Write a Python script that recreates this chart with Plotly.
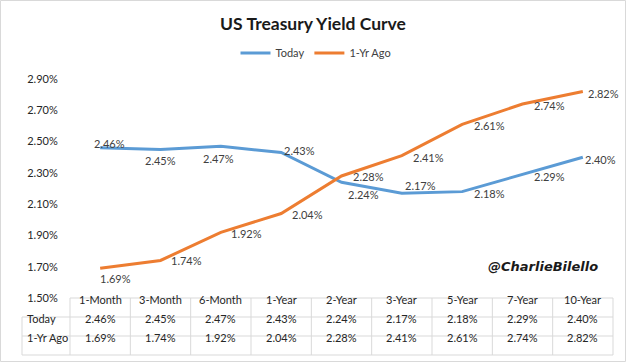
import plotly.graph_objects as go

# ---- data ----
maturities = ["1-Month", "3-Month", "6-Month", "1-Year", "2-Year", "3-Year", "5-Year", "7-Year", "10-Year"]
today = [2.46, 2.45, 2.47, 2.43, 2.24, 2.17, 2.18, 2.29, 2.40]
year_ago = [1.69, 1.74, 1.92, 2.04, 2.28, 2.41, 2.61, 2.74, 2.82]
series_names = ["Today", "1-Yr Ago"]
y_ticks = [1.5, 1.7, 1.9, 2.1, 2.3, 2.5, 2.7, 2.9]
y_tick_labels = [f"{v:.2f}%" for v in y_ticks]

# ---- styling / layout constants ----
W, H = 626, 362
ML, MR, MT, MB = 70, 13, 79, 64
PW, PH = W - ML - MR, H - MT - MB
BLUE = "#5B9BD5"
ORANGE = "#ED7D31"
TXT = "#404040"
DARK = "#262626"
GRID = "#D9D9D9"
FONT = "Lato, 'Liberation Sans', sans-serif"
FS = 11

# label offsets (pixels: dx right, dy down) for the data labels
today_off = [(9, -4), (0, 11), (-2, 12), (18, -2), (22, 12), (19, -8), (27, 2), (27, 2), (18, 2)]
ago_off = [(15, 10), (26, 0), (26, 1), (26, 1), (27, 1), (27, 2), (27, 1), (27, 1), (21, 2)]

fig = go.Figure()
fig.add_trace(go.Scatter(x=maturities, y=today, name=series_names[0], mode="lines",
                         line=dict(color=BLUE, width=3), hoverinfo="skip"))
fig.add_trace(go.Scatter(x=maturities, y=year_ago, name=series_names[1], mode="lines",
                         line=dict(color=ORANGE, width=3), hoverinfo="skip"))

ann = []
for vals, offs in ((today, today_off), (year_ago, ago_off)):
    for m, v, (dx, dy) in zip(maturities, vals, offs):
        ann.append(dict(x=m, y=v, xref="x", yref="y", text=f"{v:.2f}%", showarrow=False,
                        xshift=dx, yshift=-dy, font=dict(size=FS, color=TXT, family=FONT)))

# ---- data table under the chart ----
def px2x(px):
    return (px - ML) / PW

def py2y(py):
    return (MT + PH - py) / PH

rh = 19 / PH
lab_left = px2x(22)
n = len(maturities)
shapes = []
shapes.append(dict(type="line", xref="paper", yref="paper", x0=0, x1=1, y0=0, y1=0,
                   line=dict(color=GRID, width=1)))
for r in (1, 2, 3):
    shapes.append(dict(type="line", xref="paper", yref="paper", x0=lab_left, x1=1,
                       y0=-r * rh, y1=-r * rh, line=dict(color=GRID, width=1)))
shapes.append(dict(type="line", xref="paper", yref="paper", x0=lab_left, x1=lab_left,
                   y0=-rh, y1=-3 * rh, line=dict(color=GRID, width=1)))
for k in range(n + 1):
    shapes.append(dict(type="line", xref="paper", yref="paper", x0=k / n, x1=k / n,
                       y0=0, y1=-3 * rh, line=dict(color=GRID, width=1)))
# outer image border
shapes.append(dict(type="rect", xref="paper", yref="paper", x0=px2x(0.5), x1=px2x(W - 0.5),
                   y0=py2y(H - 0.5), y1=py2y(0.5), line=dict(color=GRID, width=1)))

for m in maturities:
    ann.append(dict(x=m, y=-0.5 * rh, xref="x", yref="paper", text=m, showarrow=False,
                    font=dict(size=FS, color=DARK, family=FONT)))
for r, (name, vals) in enumerate(zip(series_names, (today, year_ago)), start=1):
    ann.append(dict(x=px2x(25), y=-(r + 0.5) * rh, xref="paper", yref="paper", text=name,
                    showarrow=False, xanchor="left", font=dict(size=FS, color=DARK, family=FONT)))
    for m, v in zip(maturities, vals):
        ann.append(dict(x=m, y=-(r + 0.5) * rh, xref="x", yref="paper", text=f"{v:.2f}%",
                        showarrow=False, font=dict(size=FS, color=DARK, family=FONT)))

# watermark
ann.append(dict(x=px2x(600), y=py2y(276), xref="paper", yref="paper", xanchor="right",
                text="<b><i>@CharlieBilello</i></b>", showarrow=False,
                font=dict(size=13, color="#1a1a1a", family="'Comic Sans MS', 'DejaVu Sans', sans-serif")))

fig.update_layout(
    width=W, height=H,
    margin=dict(l=ML, r=MR, t=MT, b=MB, autoexpand=False),
    paper_bgcolor="white", plot_bgcolor="white",
    font=dict(family=FONT, size=FS, color=TXT),
    title=dict(text="<b>US Treasury Yield Curve</b>", xref="container", x=0.5, xanchor="center",
               yref="container", y=1 - 24 / H, yanchor="middle",
               font=dict(size=17.5, color="#1a1a1a", family=FONT)),
    legend=dict(orientation="h", xref="container", x=316 / W, xanchor="center",
                yref="container", y=1 - 53 / H, yanchor="middle",
                font=dict(size=FS, color=TXT, family=FONT), itemwidth=30,
                bgcolor="rgba(0,0,0,0)"),
    xaxis=dict(type="category", range=[-0.5, n - 0.5], showticklabels=False, showgrid=False,
               zeroline=False, showline=False, ticks=""),
    yaxis=dict(range=[y_ticks[0], y_ticks[-1]], tickmode="array", tickvals=y_ticks,
               ticktext=y_tick_labels,
               showgrid=False, zeroline=False, showline=False, ticks="outside", ticklen=9,
               tickcolor="rgba(0,0,0,0)", tickfont=dict(size=FS, color=DARK, family=FONT)),
    annotations=ann,
    shapes=shapes,
    hovermode=False,
)

fig.write_html("out.html", config={"displayModeBar": False},
               post_script="document.body.style.margin='0';")
